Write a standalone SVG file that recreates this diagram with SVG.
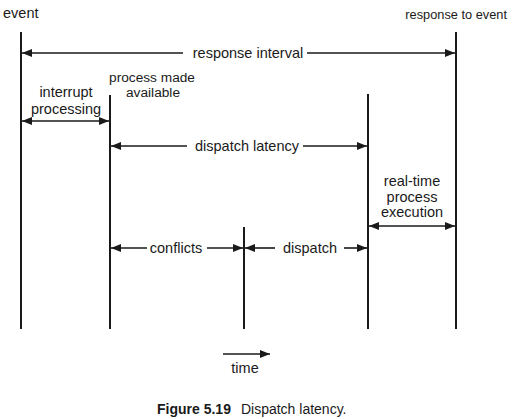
<svg xmlns="http://www.w3.org/2000/svg" width="512" height="419" viewBox="0 0 512 419">
<defs>
<marker id="ah" viewBox="0 0 10 8" refX="10" refY="4" markerWidth="10" markerHeight="8" markerUnits="userSpaceOnUse" orient="auto-start-reverse">
<path d="M0,0 L10,4 L0,8 z" fill="#1a1a1a"/>
</marker>
<style>
text{font-family:"Liberation Sans",Arial,sans-serif;font-size:14.5px;fill:#1a1a1a}
.c{text-anchor:middle}
.v{stroke:#1a1a1a;stroke-width:2;fill:none}
.a{stroke:#1a1a1a;stroke-width:1.6;fill:none}
</style>
</defs>
<rect width="512" height="419" fill="#fff"/>
<g id="timelines">
<line class="v" x1="21" y1="32" x2="21" y2="329"/>
<line class="v" x1="110" y1="95" x2="110" y2="329"/>
<line class="v" x1="244" y1="227" x2="244" y2="329"/>
<line class="v" x1="368" y1="94" x2="368" y2="329"/>
<line class="v" x1="456" y1="32" x2="456" y2="329"/>
</g>
<g id="labels">
<text x="3" y="18">event</text>
<text x="507" y="19" text-anchor="end" style="font-size:12.8px">response to event</text>
<text class="c" x="152" y="82" style="font-size:13.7px">process made</text>
<text class="c" x="153" y="97" style="font-size:13.7px">available</text>
<text class="c" x="66" y="97">interrupt</text>
<text class="c" x="66" y="114">processing</text>
<text class="c" x="412" y="186">real-time</text>
<text class="c" x="412" y="202">process</text>
<text class="c" x="412" y="217">execution</text>
<text class="c" x="245" y="373">time</text>
<text x="157" y="414" style="font-size:14px"><tspan font-weight="bold">Figure 5.19</tspan><tspan dx="10">Dispatch latency.</tspan></text>
</g>
<g id="connectors">
<line class="a" x1="22" y1="53" x2="183" y2="53" marker-start="url(#ah)"/>
<text class="c" x="248" y="58">response interval</text>
<line class="a" x1="307" y1="53" x2="455" y2="53" marker-end="url(#ah)"/>
<line class="a" x1="22" y1="121" x2="109" y2="121" marker-start="url(#ah)" marker-end="url(#ah)"/>
<line class="a" x1="111" y1="146" x2="187" y2="146" marker-start="url(#ah)"/>
<text class="c" x="247" y="151">dispatch latency</text>
<line class="a" x1="303" y1="146" x2="367" y2="146" marker-end="url(#ah)"/>
<line class="a" x1="111" y1="248" x2="147" y2="248" marker-start="url(#ah)"/>
<text class="c" x="176" y="253">conflicts</text>
<line class="a" x1="207" y1="248" x2="243" y2="248" marker-end="url(#ah)"/>
<line class="a" x1="245" y1="248" x2="275" y2="248" marker-start="url(#ah)"/>
<text class="c" x="310" y="253">dispatch</text>
<line class="a" x1="344" y1="248" x2="367" y2="248" marker-end="url(#ah)"/>
<line class="a" x1="369" y1="226" x2="455" y2="226" marker-start="url(#ah)" marker-end="url(#ah)"/>
<line class="a" x1="223" y1="354" x2="270" y2="354" marker-end="url(#ah)"/>
</g>
</svg>
